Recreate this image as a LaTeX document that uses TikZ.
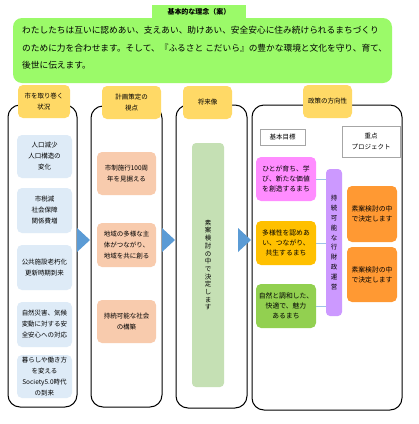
\documentclass[tikz,border=0pt]{standalone}
\usepackage{fontspec}
\setmainfont{Noto Sans CJK JP}
\usetikzlibrary{calc}
\definecolor{ideagreen}{RGB}{155,250,105}
\definecolor{tabyellow}{RGB}{255,217,102}
\definecolor{lblue}{RGB}{222,235,247}
\definecolor{peach}{RGB}{248,203,173}
\definecolor{lgreen}{RGB}{197,224,180}
\definecolor{gpink}{RGB}{255,140,255}
\definecolor{gyellow}{RGB}{255,192,0}
\definecolor{ggreen}{RGB}{146,208,80}
\definecolor{gpurple}{RGB}{204,153,255}
\definecolor{gorange}{RGB}{255,153,51}
\definecolor{arrowblue}{RGB}{91,155,213}
\definecolor{linkblue}{RGB}{157,195,230}
\tikzset{
  x=1pt,y=-1pt,
  frame/.style={draw=black,line width=1pt,rounded corners=12pt,fill=white},
  tab/.style={fill=tabyellow,rounded corners=5pt,inner sep=0pt,align=center,font=\fontsize{6.5}{11}\selectfont},
  sbox/.style={rounded corners=5pt,inner sep=0pt,align=center,font=\fontsize{6.5}{11}\selectfont},
  gbox/.style={rounded corners=5pt,inner sep=0pt,align=center,font=\fontsize{6.8}{10}\selectfont},
  vtxt/.style={rounded corners=4pt,inner sep=0pt,align=center},
  tri/.style={fill=arrowblue,draw=none},
  link/.style={draw=linkblue,line width=0.8pt}
}
\newcommand{\boxat}[6]{% name, style, x1, y1, x2, y2
  \node[#2,minimum width={#5-#3},minimum height={#6-#4}] (#1) at ({(#3+#5)/2},{(#4+#6)/2})}
\begin{document}
\begin{tikzpicture}
\useasboundingbox (0,0) rectangle (419,424);
\fill[white] (0,0) rectangle (419,424);
% idea box
\boxat{idea}{fill=ideagreen,rounded corners=9pt,inner sep=0pt}{13}{18}{392}{83}{};
\node[anchor=north west,inner sep=0pt,align=left,font=\fontsize{8.7}{17.5}\selectfont] (ideatext) at (22,26)
 {わたしたちは互いに認めあい、支えあい、助けあい、安全安心に住み続けられるまちづくり\\
  のために力を合わせます。そして、『ふるさと こだいら』の豊かな環境と文化を守り、育て、\\
  後世に伝えます。};
\boxat{ideatab}{fill=ideagreen,inner sep=0pt,font=\fontsize{7}{9}\selectfont\bfseries}{152}{5}{246}{19}{基本的な理念（案）};
% frames
\draw[frame] (8,105) rectangle (77,407);
\draw[frame] (91,106) rectangle (162,407);
\draw[frame] (176,105) rectangle (247,408);
\draw[frame] (252,105) rectangle (402,410);
% tabs
\boxat{t1}{tab}{18}{85}{70}{118}{市を取り巻く\\状況};
\boxat{t2}{tab}{102}{86}{161}{119}{計画策定の\\視点};
\boxat{t3}{tab}{183}{86}{232}{119}{将来像};
\boxat{t4}{tab}{303}{85}{352}{118}{政策の方向性};
% column 1
\boxat{a1}{sbox,fill=lblue}{17}{135}{72}{178}{人口減少\\人口構造の\\変化};
\boxat{a2}{sbox,fill=lblue}{17}{188}{72}{233}{市税減\\社会保障\\関係費増};
\boxat{a3}{sbox,fill=lblue}{17}{245}{72}{290}{公共施設老朽化\\更新時期到来};
\boxat{a4}{sbox,fill=lblue}{17}{302}{72}{347}{自然災害、気候\\変動に対する安\\全安心への対応};
\boxat{a5}{sbox,fill=lblue}{17}{355}{72}{398}{暮らしや働き方\\を変える\\Society5.0時代\\の到来};
% column 2
\boxat{b1}{sbox,fill=peach}{97}{152}{156}{195}{市制施行100周\\年を見据える};
\boxat{b2}{sbox,fill=peach}{97}{223}{156}{267}{地域の多様な主\\体がつながり、\\地域を共に創る};
\boxat{b3}{sbox,fill=peach}{97}{300}{156}{343}{持続可能な社会\\の構築};
% column 3
\boxat{c1}{vtxt,fill=lgreen,font=\fontsize{6.5}{7.7}\selectfont}{192}{143}{224}{387}{素\\案\\検\\討\\の\\中\\で\\決\\定\\し\\ま\\す};
% column 4
\boxat{k1}{draw=black!35,fill=white,inner sep=0pt,font=\fontsize{6.5}{9}\selectfont}{260}{129}{305}{145}{基本目標};
\boxat{k2}{draw=black!35,fill=white,inner sep=0pt,align=center,font=\fontsize{6.5}{11}\selectfont}{342}{126}{400}{157}{重点\\プロジェクト};
\boxat{g1}{gbox,fill=gpink}{256}{157}{316}{201}{ひとが育ち、学\\び、新たな価値\\を創造するまち};
\boxat{g2}{gbox,fill=gyellow}{256}{221}{316}{265}{多様性を認めあ\\い、つながり、\\共生するまち};
\boxat{g3}{gbox,fill=ggreen}{256}{284}{316}{328}{自然と調和した、\\快適で、魅力\\あるまち};
\boxat{pp}{vtxt,fill=gpurple,font=\fontsize{6.5}{9.8}\selectfont}{326}{169}{342}{316}{持\\続\\可\\能\\な\\行\\財\\政\\運\\営};
\boxat{o1}{gbox,fill=gorange}{347}{186}{397}{242}{素案検討の中\\で決定します};
\boxat{o2}{gbox,fill=gorange}{347}{247}{397}{302}{素案検討の中\\で決定します};
\draw[link] (g1.east) -- (g1.east -| pp.west);
\draw[link] (g2.east) -- (g2.east -| pp.west);
\draw[link] (g3.east) -- (g3.east -| pp.west);
% arrows
\coordinate (ar1) at (77,228);
\coordinate (ar2) at (162,228);
\coordinate (ar3) at (238,228);
\foreach \a in {ar1,ar2,ar3}{
  \fill[tri] (\a) -- ($(\a)+(13,12)$) -- ($(\a)+(0,24)$) -- cycle;
}
\end{tikzpicture}
\end{document}
